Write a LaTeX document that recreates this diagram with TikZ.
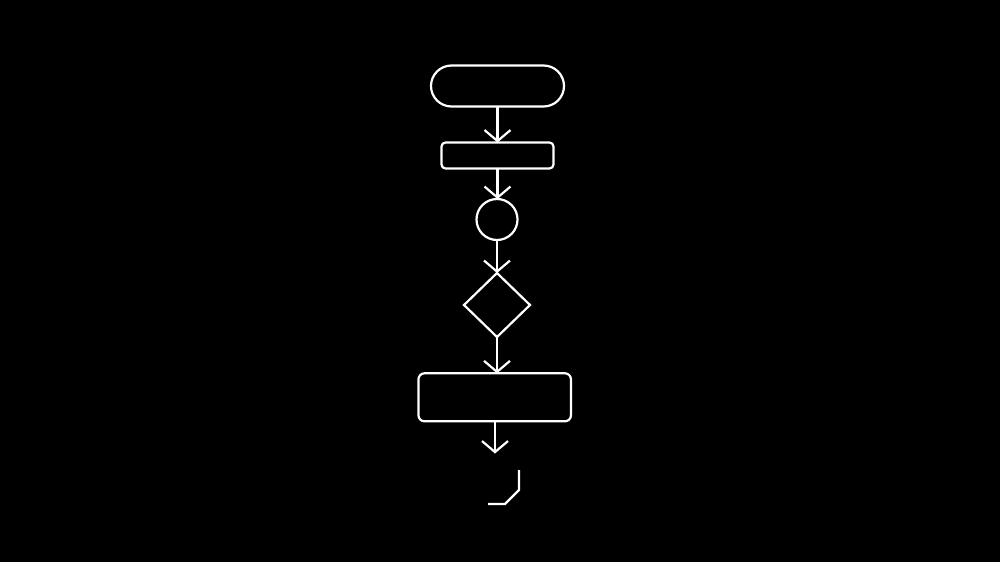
\documentclass[tikz,border=0pt]{standalone}
\usetikzlibrary{shapes.geometric,arrows.meta}
\begin{document}
\begin{tikzpicture}[x=1pt,y=-1pt,
  every node/.style={draw=white,line width=2.2pt,inner sep=0pt,outer sep=0pt},
  flowline/.style={draw=white,line width=2.2pt},
  flowarrow/.style={flowline,-{Straight Barb[length=11pt,width=26pt,line width=2.2pt]}},
  termbox/.style={rectangle,rounded corners=20.5pt,minimum width=133pt,minimum height=41pt},
  procbox/.style={rectangle,rounded corners=4pt},
  decbox/.style={diamond,minimum width=66pt,minimum height=64pt},
  connbox/.style={circle,minimum size=41pt}]
\fill[black] (0,0) rectangle (1000,562);
\useasboundingbox (0,0) rectangle (1000,562);
\node[termbox] (term) at (497.5,86) {};
\node[procbox,minimum width=112pt,minimum height=26pt] (prep) at (497.5,155.5) {};
\node[connbox] (conn) at (497,219.5) {};
\node[decbox] (dec) at (497,305) {};
\node[procbox,rounded corners=6pt,minimum width=152.5pt,minimum height=48pt] (proc) at (494.7,397.3) {};
\coordinate (endpt) at (495,453.5);
\draw[flowarrow] (term.south) -- (term.south |- prep.north);
\draw[flowarrow] (prep.south) -- (prep.south |- conn.north);
\draw[flowarrow] (conn.south) -- (dec.north);
\draw[flowarrow] (dec.south) -- (dec.south |- proc.north);
\draw[flowarrow] (proc.south -| endpt) -- (endpt);
\draw[flowline] (519,470) -- (519,490) -- (505,504) -- (488,504);
\end{tikzpicture}
\end{document}
